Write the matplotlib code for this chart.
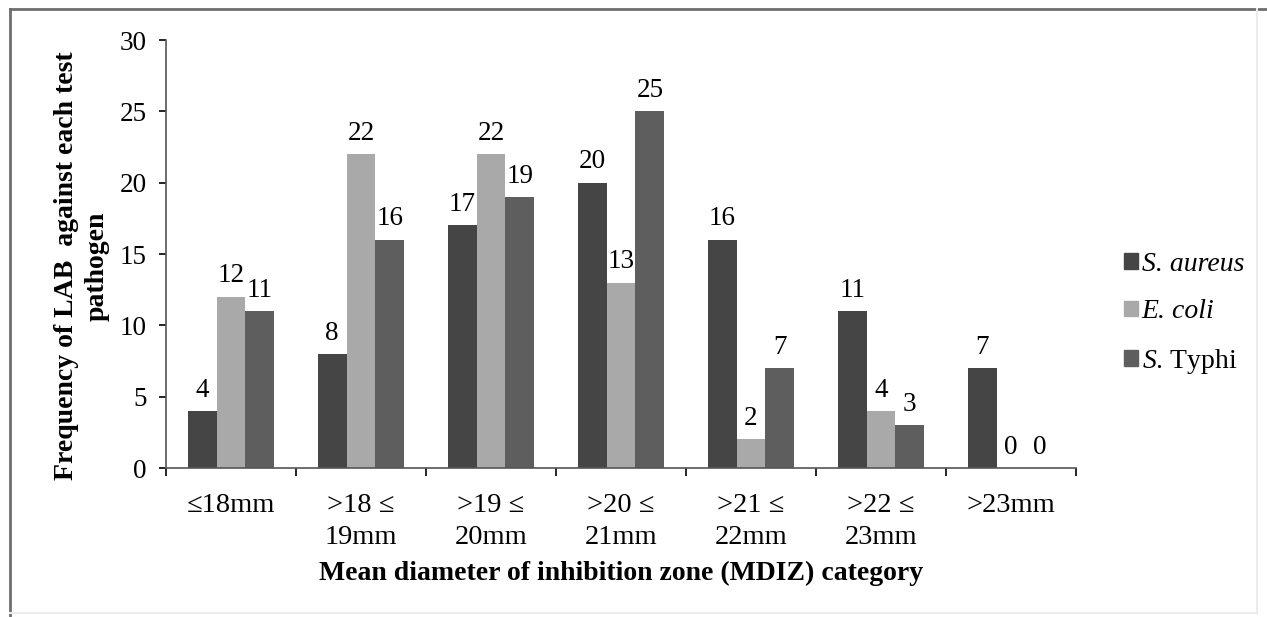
import matplotlib
matplotlib.use("Agg")
import matplotlib.pyplot as plt
import numpy as np
from matplotlib.lines import Line2D
from matplotlib.patches import Patch

categories = ["≤18mm", ">18 ≤\n19mm", ">19 ≤\n20mm", ">20 ≤\n21mm", ">21 ≤\n22mm", ">22 ≤\n23mm", ">23mm"]
s_aureus = [4, 8, 17, 20, 16, 11, 7]
e_coli = [12, 22, 22, 13, 2, 4, 0]
s_typhi = [11, 16, 19, 25, 7, 3, 0]
series_labels = ["S. aureus", "E. coli", "$\\mathit{S}$. Typhi"]
colors = ["#454545", "#a9a9a9", "#5e5e5e"]

plt.rcParams['font.family'] = ['Liberation Serif', 'DejaVu Serif']
plt.rcParams['mathtext.fontset'] = 'custom'
plt.rcParams['mathtext.it'] = 'Liberation Serif:italic'
plt.rcParams['mathtext.rm'] = 'Liberation Serif'

FS = 19.5

fig = plt.figure(figsize=(12.67, 6.17), dpi=100)
ax = fig.add_axes([166/1267, 1-468/617, (1076-166)/1267, (468-40)/617])

x = np.arange(len(categories))
w = 0.222
for k, (vals, c, lab) in enumerate(zip([s_aureus, e_coli, s_typhi], colors, series_labels)):
    bars = ax.bar(x + (k-1)*w, vals, width=w, color=c, label=lab)
    for b, v in zip(bars, vals):
        ax.annotate(str(v), (b.get_x()+b.get_width()/2, v), xytext=(0, 6),
                    textcoords='offset points', ha='center', va='bottom', fontsize=FS)

ax.set_xlim(-0.5, len(categories)-0.5)
ax.set_ylim(0, 30)
ax.set_yticks(range(0, 31, 5))
ax.tick_params(axis='y', labelsize=FS, direction='out', length=5, width=1.2, pad=9)
ax.set_xticks(x)
ax.set_xticklabels(categories, fontsize=20.5, linespacing=1.35)
ax.tick_params(axis='x', which='major', length=0, pad=18)
ax.set_xticks(np.arange(-0.5, len(categories), 1.0), minor=True)
ax.tick_params(axis='x', which='minor', length=6, width=1.2, direction='out')
for s in ['top', 'right']:
    ax.spines[s].set_visible(False)
for s in ['left', 'bottom']:
    ax.spines[s].set_color('#555555')
    ax.spines[s].set_linewidth(1.2)

ax.set_xlabel("Mean diameter of inhibition zone (MDIZ) category", fontsize=20, fontweight='bold')
ax.xaxis.set_label_coords(0.5, -0.218)
ax.set_ylabel("Frequency of LAB  against each test\npathogen", fontsize=20, fontweight='bold', linespacing=1.3)
ax.yaxis.set_label_coords(-0.062, 0.472)

handles = [Patch(color=c) for c in colors]
leg = ax.legend(handles, series_labels, loc='center left', bbox_to_anchor=(1.025, 0.36),
                frameon=False, fontsize=20, handlelength=0.5, handleheight=0.5,
                handletextpad=0.15, labelspacing=0.8)
for t in leg.get_texts()[:2]:
    t.set_fontstyle('italic')

fig.add_artist(Line2D([10/1267, 10/1267], [0, 1-9/617], transform=fig.transFigure, color='#6e6e6e', lw=2))
fig.add_artist(Line2D([10/1267, 1], [1-9/617, 1-9/617], transform=fig.transFigure, color='#6e6e6e', lw=2))
fig.add_artist(Line2D([1257/1267, 1257/1267], [1-613/617, 1-9/617], transform=fig.transFigure, color='#ececec', lw=1.5))
fig.add_artist(Line2D([10/1267, 1257/1267], [1-613/617, 1-613/617], transform=fig.transFigure, color='#ececec', lw=1.5))

fig.savefig("out.png", dpi=100)
